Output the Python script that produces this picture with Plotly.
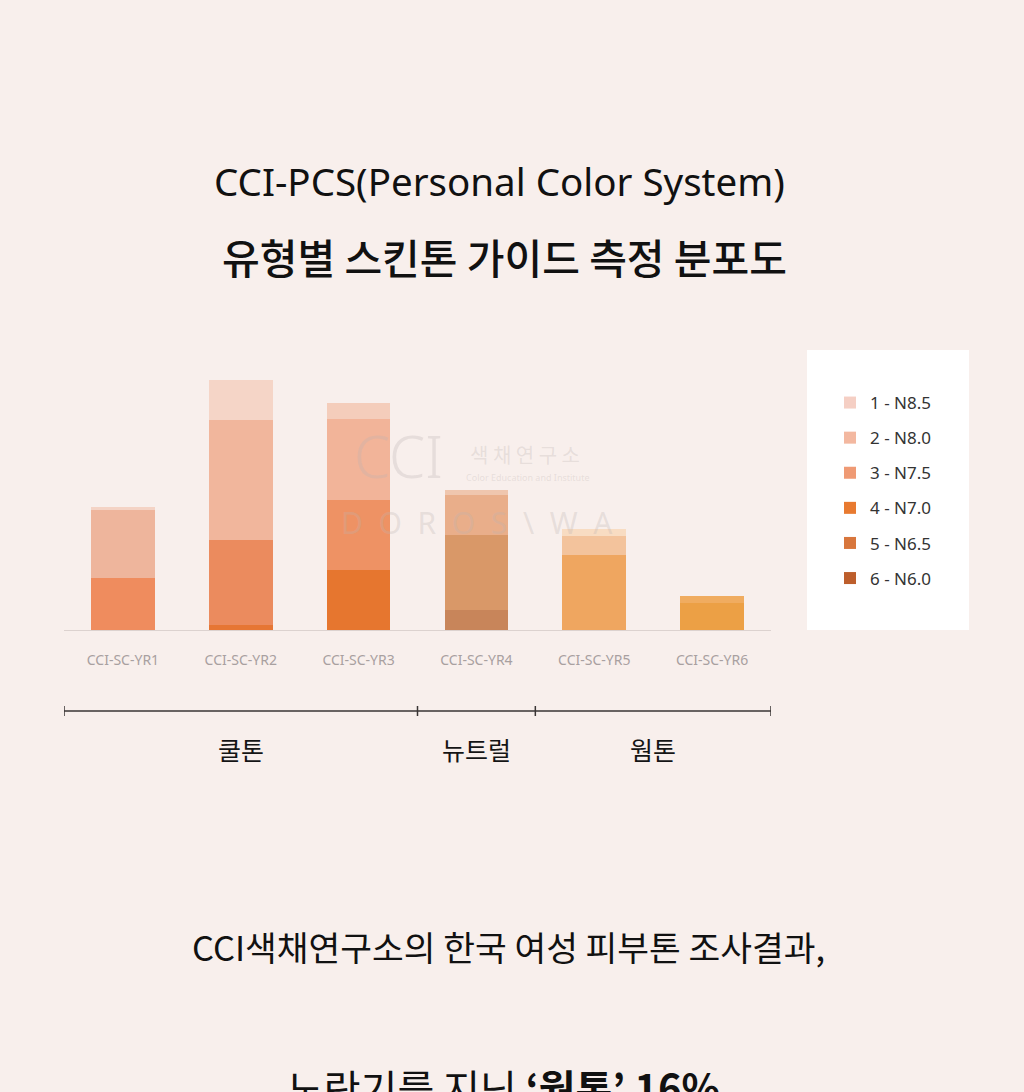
import plotly.graph_objects as go

# ---------------- data ----------------
categories = ["CCI-SC-YR1", "CCI-SC-YR2", "CCI-SC-YR3", "CCI-SC-YR4", "CCI-SC-YR5", "CCI-SC-YR6"]
levels = ["1 - N8.5", "2 - N8.0", "3 - N7.5", "4 - N7.0", "5 - N6.5", "6 - N6.0"]

# share (%) of each level within each type (stacked)
n85 = [0.4, 4.6, 1.9, 0.6, 0.8, 0.0]
n80 = [7.7, 13.7, 9.2, 4.5, 2.1, 0.0]
n75 = [6.0, 9.7, 8.0, 8.6, 8.6, 0.8]
n70 = [0.0, 0.6, 6.9, 0.0, 0.0, 3.1]
n65 = [0.0, 0.0, 0.0, 2.3, 0.0, 0.0]
n60 = [0.0, 0.0, 0.0, 0.0, 0.0, 0.0]
level_values = [n85, n80, n75, n70, n65, n60]

groups = ["쿨톤", "뉴트럴", "웜톤"]
group_sizes = [3, 1, 2]

title1 = "CCI-PCS(Personal Color System)"
title2 = "유형별 스킨톤 가이드 측정 분포도"
bottom1 = "CCI색채연구소의 한국 여성 피부톤 조사결과,"
bottom2 = "노란기를 지닌 <b>‘웜톤’ 16%</b>"

# ---------------- styles ----------------
legend_colors = ["#f5cfc4", "#f3b8a0", "#ef9a74", "#e87a30", "#d8763c", "#bd5e2c"]
bar_colors = [
    ["#f4d3c5", "#f5d5c7", "#f4cdbb", "#efc6ae", "#f8dcc2", "#f3b878"],
    ["#eeb59c", "#f1b69c", "#f2b499", "#e9ae8a", "#f3c39c", "#f2b070"],
    ["#ef8c5e", "#eb8b5e", "#ee9264", "#d99868", "#efa660", "#f0ac60"],
    ["#e8773a", "#e67634", "#e6762f", "#cf8756", "#eb9a45", "#eca045"],
    ["#d8763c", "#d8763c", "#d8763c", "#c8855a", "#d8863c", "#d8863c"],
    ["#bd5e2c", "#bd5e2c", "#bd5e2c", "#b8683c", "#bd6e2c", "#bd6e2c"],
]
BG = "#f8efec"
W, H = 1024, 1092
KFONT = "Noto Sans CJK KR, Noto Sans, sans-serif"


def pxx(x):
    return x / W


def pyy(y):
    return 1 - y / H


fig = go.Figure()

# stacked data bars (darkest at bottom)
for i in reversed(range(len(levels))):
    fig.add_trace(go.Bar(
        x=categories, y=level_values[i], name=levels[i],
        marker=dict(color=bar_colors[i], line=dict(width=0)),
        width=0.54, showlegend=False,
    ))

# legend entries
for i, lv in enumerate(levels):
    fig.add_trace(go.Bar(
        x=[categories[0]], y=[0], name=lv,
        marker=dict(color=legend_colors[i], line=dict(width=0)),
        legendgroup=lv, legendrank=i + 1, showlegend=True, hoverinfo="skip",
    ))

shapes = []
annotations = []

# white legend panel
shapes.append(dict(type="rect", xref="paper", yref="paper",
                   x0=pxx(807), x1=pxx(969), y0=pyy(630), y1=pyy(350),
                   fillcolor="#ffffff", line=dict(width=0), layer="below"))

# group bracket
bounds = [-0.5]
for s in group_sizes:
    bounds.append(bounds[-1] + s)
yl = pyy(711)
shapes.append(dict(type="line", xref="x", yref="paper", x0=bounds[0], x1=bounds[-1],
                   y0=yl, y1=yl, line=dict(color="#3a3535", width=1.5)))
for b in bounds:
    shapes.append(dict(type="line", xref="x", yref="paper", x0=b, x1=b,
                       y0=pyy(716), y1=pyy(706), line=dict(color="#3a3535", width=1.5)))
for g, a, b in zip(groups, bounds[:-1], bounds[1:]):
    annotations.append(dict(text=g, x=(a + b) / 2, y=pyy(749), xref="x", yref="paper",
                            showarrow=False, xanchor="center", yanchor="middle",
                            font=dict(family=KFONT, size=25, color="#151515", weight=400)))

# titles
annotations.append(dict(text=title1, x=pxx(499), y=pyy(181), xref="paper", yref="paper",
                        showarrow=False, xanchor="center", yanchor="middle",
                        font=dict(family="Noto Sans, sans-serif", size=38.5, color="#111111")))
annotations.append(dict(text=title2, x=pxx(504), y=pyy(256), xref="paper", yref="paper",
                        showarrow=False, xanchor="center", yanchor="middle",
                        font=dict(family=KFONT, size=41, color="#111111", weight=500)))
annotations.append(dict(text=bottom1, x=pxx(508), y=pyy(946), xref="paper", yref="paper",
                        showarrow=False, xanchor="center", yanchor="middle",
                        font=dict(family=KFONT, size=34.5, color="#111111")))
annotations.append(dict(text=bottom2, x=pxx(503), y=pyy(1087), xref="paper", yref="paper",
                        showarrow=False, xanchor="center", yanchor="middle",
                        font=dict(family=KFONT, size=40, color="#111111")))

# faint watermark
wm = "rgba(190,180,178,0.30)"
annotations.append(dict(text="CCI", x=pxx(398), y=pyy(455), xref="paper", yref="paper",
                        showarrow=False, xanchor="center", yanchor="middle",
                        font=dict(family="Noto Sans, sans-serif", size=58, color=wm, weight=300)))
annotations.append(dict(text="색 채 연 구 소", x=pxx(525), y=pyy(454), xref="paper", yref="paper",
                        showarrow=False, xanchor="center", yanchor="middle",
                        font=dict(family=KFONT, size=20, color=wm)))
annotations.append(dict(text="Color Education and Institute", x=pxx(527), y=pyy(477), xref="paper", yref="paper",
                        showarrow=False, xanchor="center", yanchor="middle",
                        font=dict(family="Noto Sans, sans-serif", size=9, color=wm)))
annotations.append(dict(text="D  O  R  O  S  \\  W  A", x=pxx(477), y=pyy(522), xref="paper", yref="paper",
                        showarrow=False, xanchor="center", yanchor="middle",
                        font=dict(family="Noto Sans, sans-serif", size=30, color=wm)))

fig.update_layout(
    width=W, height=H, autosize=False,
    margin=dict(l=0, r=0, t=0, b=0, pad=0),
    paper_bgcolor=BG, plot_bgcolor=BG,
    barmode="stack",
    showlegend=True,
    legend=dict(x=pxx(830), y=pyy(385), xanchor="left", yanchor="top",
                bgcolor="rgba(0,0,0,0)", tracegroupgap=10,
                font=dict(family="Noto Sans, sans-serif", size=17, color="#333333"),
                itemclick=False, itemdoubleclick=False),
    xaxis=dict(domain=[pxx(64), pxx(771)], range=[-0.5, 5.5], type="category",
               showgrid=False, zeroline=False, showline=True, linecolor="#dcd2cf", linewidth=1,
               ticks="", ticklabelstandoff=17,
               tickfont=dict(family="Noto Sans, sans-serif", size=14, color="#a8a0a0"),
               fixedrange=True),
    yaxis=dict(domain=[pyy(630), pyy(350)], range=[0, 32], showgrid=False, zeroline=False,
               showline=False, showticklabels=False, fixedrange=True),
    shapes=shapes, annotations=annotations,
)

fig.write_html("out.html")
